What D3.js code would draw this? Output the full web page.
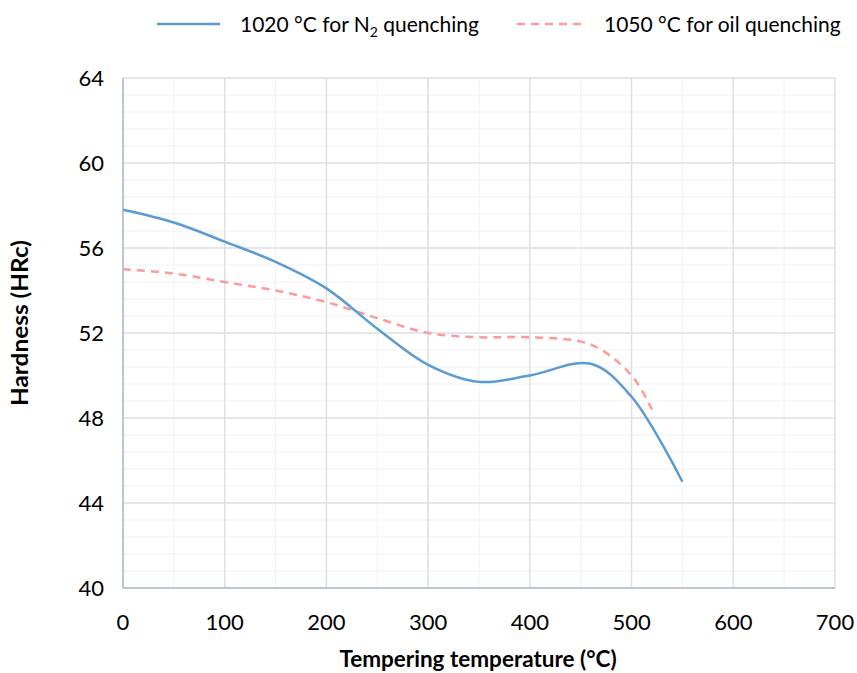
<!DOCTYPE html>
<html>
<head>
<meta charset="utf-8">
<script src="https://cdn.jsdelivr.net/npm/d3@7"></script>
<style>
body { margin: 0; background: #fff; }
text { font-family: Lato, "Open Sans", sans-serif; fill: #000; }
</style>
</head>
<body>
<script>
// tempering temperature (°C) and hardness (HRc)
var tempsN2 = [0, 50, 100, 150, 200, 250, 300, 350, 400, 460, 500, 550];
var hardN2 = [57.8, 57.2, 56.3, 55.35, 54.1, 52.2, 50.5, 49.7, 50.0, 50.55, 49.0, 45.0];
var tempsOil = [0, 50, 100, 150, 200, 250, 300, 350, 400, 460, 500, 520];
var hardOil = [55.0, 54.8, 54.4, 54.0, 53.45, 52.7, 52.0, 51.8, 51.8, 51.45, 50.0, 48.4];
var xTicks = [0, 100, 200, 300, 400, 500, 600, 700];
var yTicks = [40, 44, 48, 52, 56, 60, 64];

var W = 857, H = 673;
//plot box (don't call these top/left, window.top is read only)
var pL = 123, pR = 835, pT = 78, pB = 588;

var svg = d3.select("body").append("svg").attr("width", W).attr("height", H);

var x = d3.scaleLinear().domain([0, 700]).range([pL, pR]);
var y = d3.scaleLinear().domain([40, 64]).range([pB, pT]);

//minor grid
var minorX = d3.range(0, 701, 50).filter(function(d) { return d % 100 != 0; });
var minorY = d3.range(40, 64.01, 0.8).filter(function(d) { return Math.abs(d / 4 - Math.round(d / 4)) > 0.01; });
svg.selectAll(".mx").data(minorX).enter().append("line")
  .attr("x1", x).attr("x2", x).attr("y1", pT).attr("y2", pB)
  .attr("stroke", "#eff1f4").attr("stroke-width", 1);
svg.selectAll(".my").data(minorY).enter().append("line")
  .attr("x1", pL).attr("x2", pR).attr("y1", y).attr("y2", y)
  .attr("stroke", "#eff1f4").attr("stroke-width", 1);

//major grid
svg.selectAll(".gx").data(xTicks.slice(1)).enter().append("line")
  .attr("x1", x).attr("x2", x).attr("y1", pT).attr("y2", pB)
  .attr("stroke", "#dcdfe6").attr("stroke-width", 1.5);
svg.selectAll(".gy").data(yTicks.slice(1)).enter().append("line")
  .attr("x1", pL).attr("x2", pR).attr("y1", y).attr("y2", y)
  .attr("stroke", "#dcdfe6").attr("stroke-width", 1.5);

//axis lines
svg.append("line").attr("x1", pL).attr("x2", pL).attr("y1", pT).attr("y2", pB)
  .attr("stroke", "#a9b3c6").attr("stroke-width", 1.5);
svg.append("line").attr("x1", pL).attr("x2", pR).attr("y1", pB).attr("y2", pB)
  .attr("stroke", "#a9b3c6").attr("stroke-width", 1.5);

//tick labels
svg.selectAll(".xt").data(xTicks).enter().append("text")
  .attr("x", x).attr("y", 630).attr("text-anchor", "middle")
  .style("font-size", "22px").text(function(d) { return d; });
svg.selectAll(".yt").data(yTicks).enter().append("text")
  .attr("x", 104).attr("y", function(d) { return y(d) + 8; }).attr("text-anchor", "end")
  .style("font-size", "22px").text(function(d) { return d; });

//axis titles
svg.append("text").attr("x", 478).attr("y", 667).attr("text-anchor", "middle")
  .style("font-size", "22.5px").style("font-weight", "bold")
  .text("Tempering temperature (°C)");
svg.append("text").attr("transform", "translate(28,323) rotate(-90)").attr("text-anchor", "middle")
  .style("font-size", "23px").style("font-weight", "bold")
  .attr("textLength", 166).attr("lengthAdjust", "spacingAndGlyphs")
  .text("Hardness (HRc)");

var line = d3.line()
  .x(function(d) { return x(d[0]); })
  .y(function(d) { return y(d[1]); })
  .curve(d3.curveCatmullRom.alpha(0.5));

svg.append("path").datum(d3.zip(tempsOil, hardOil)).attr("d", line)
  .attr("fill", "none").attr("stroke", "#ff9a9a").attr("stroke-width", 2.5)
  .attr("stroke-dasharray", "8,6");
svg.append("path").datum(d3.zip(tempsN2, hardN2)).attr("d", line)
  .attr("fill", "none").attr("stroke", "#5b9bd5").attr("stroke-width", 2.5);

//legend
var lg = svg.append("g");
lg.append("line").attr("x1", 157).attr("x2", 220).attr("y1", 24).attr("y2", 24)
  .attr("stroke", "#5b9bd5").attr("stroke-width", 2.5);
var t1 = lg.append("text").attr("x", 240).attr("y", 32).style("font-size", "21px");
t1.append("tspan").text("1020 °C for N");
t1.append("tspan").attr("dy", 5).style("font-size", "14px").text("2");
t1.append("tspan").attr("dy", -5).text(" quenching");
lg.append("line").attr("x1", 517).attr("x2", 582).attr("y1", 24).attr("y2", 24)
  .attr("stroke", "#ff9a9a").attr("stroke-width", 2.5).attr("stroke-dasharray", "8,6");
lg.append("text").attr("x", 604).attr("y", 32).style("font-size", "21px")
  .text("1050 °C for oil quenching");
</script>
</body>
</html>
